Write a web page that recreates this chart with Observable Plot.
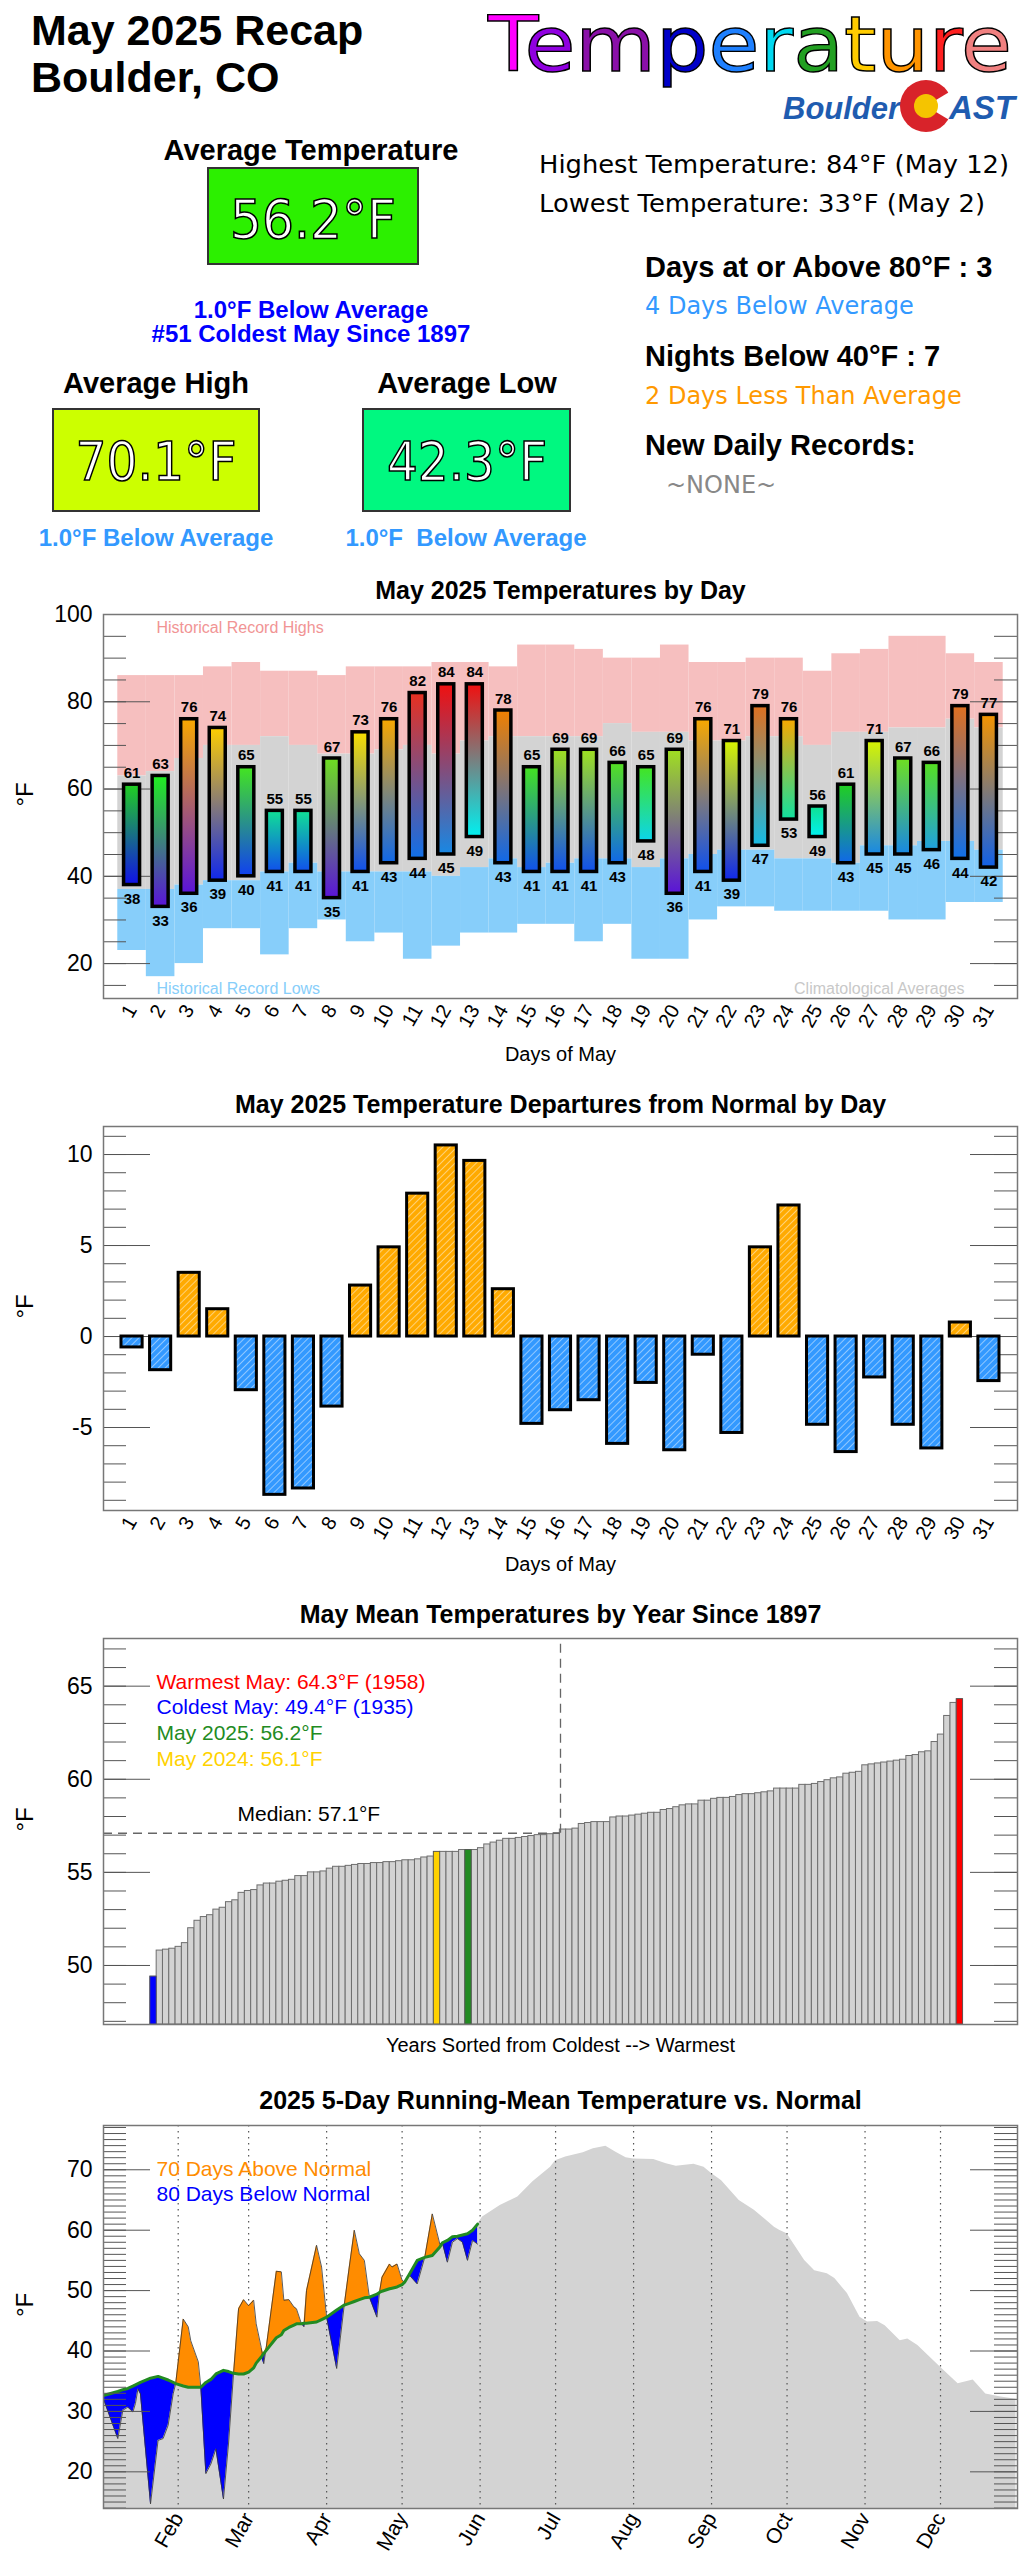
<!DOCTYPE html>
<html><head><meta charset="utf-8">
<script src="https://cdn.jsdelivr.net/npm/d3@7"></script>
<script src="https://cdn.jsdelivr.net/npm/@observablehq/plot@0.6"></script>
<style>
body{margin:0;background:#fff;}
#wrap{position:relative;width:1031px;height:2560px;overflow:hidden;background:#fff;font-family:"Liberation Sans",Arial,Helvetica,sans-serif;}
#wrap > svg{position:absolute;left:0;}
</style></head><body><div id="wrap"></div>
<script>
// ---------------- DATA ----------------
// Header summary values
const avgTemp = "56.2", avgHigh = "70.1", avgLow = "42.3";
const avgTempDep = "1.0", avgHighDep = "1.0", avgLowDep = "1.0";
const coldRank = 51, sinceYear = 1897;
const highestTemp = 84, highestDate = "May 12", lowestTemp = 33, lowestDate = "May 2";
const hotDays = 3, hotDaysDiff = 4, coldNights = 7, coldNightsDiff = 2;
const tempLetters = ["T","e","m","p","e","r","a","t","u","r","e"];

// Chart 1: daily temperatures (May 2025)
const days = [1,2,3,4,5,6,7,8,9,10,11,12,13,14,15,16,17,18,19,20,21,22,23,24,25,26,27,28,29,30,31];
const dailyHighs = [61,63,76,74,65,55,55,67,73,76,82,84,84,78,65,69,69,66,65,69,76,71,79,76,56,61,71,67,66,79,77];
const dailyLows  = [38,33,36,39,40,41,41,35,41,43,44,45,49,43,41,41,41,43,48,36,41,39,47,53,49,43,45,45,46,44,42];
const normalHighs = [63,64,67,70,70,72,70,68,68,69,70,68,71,72,72,72,72,75,73,73,71,71,72,72,70,73,73,74,74,76,74];
const normalLows  = [37,37,38,39,39,41,43,41,41,41,41,40,42,44,42,43,44,44,42,44,45,46,46,44,44,43,47,47,48,48,46];
const recordHighs = [86,86,86,88,89,87,87,86,88,88,88,89,89,88,93,93,92,90,90,93,89,89,90,90,87,91,92,95,95,91,89];
const recordLows  = [23,17,20,28,28,22,28,30,25,27,21,24,27,27,29,29,25,29,21,21,30,33,33,32,32,32,32,30,30,34,34];
const y1Labels = [20,40,60,80,100];

// Chart 2: departures from normal
const departures = [-0.6,-1.85,3.5,1.5,-2.95,-8.7,-8.35,-3.85,2.8,4.9,7.85,10.5,9.65,2.6,-4.8,-4.05,-3.5,-5.9,-2.55,-6.25,-1.0,-5.3,4.9,7.2,-4.85,-6.35,-2.25,-4.85,-6.15,0.77,-2.45];
const y2Labels = [-5,0,5,10];

// Chart 3: May mean temperatures sorted coldest -> warmest (1897-2025)
const sortedMayMeans = [49.4,50.8,50.85,50.9,51.0,51.2,52.0,52.4,52.6,52.7,53.0,53.1,53.4,53.5,53.9,54.0,54.05,54.3,54.4,54.4,
 54.5,54.55,54.6,54.8,54.8,55.0,55.0,55.05,55.2,55.3,55.3,55.35,55.4,55.45,55.45,55.5,55.5,55.55,55.55,55.6,
 55.65,55.65,55.7,55.8,55.85,56.1,56.1,56.1,56.1,56.2,56.2,56.2,56.3,56.5,56.6,56.7,56.8,56.8,56.85,56.9,
 56.95,57.0,57.0,57.05,57.1,57.3,57.3,57.35,57.6,57.65,57.7,57.7,57.7,57.95,58.0,58.0,58.05,58.1,58.15,58.2,
 58.2,58.35,58.4,58.5,58.6,58.65,58.65,58.85,58.85,58.95,59.0,59.0,59.05,59.15,59.2,59.2,59.25,59.3,59.35,59.5,
 59.5,59.5,59.5,59.7,59.7,59.75,59.85,59.95,60.05,60.1,60.3,60.35,60.4,60.75,60.8,60.85,60.9,60.95,61.0,61.05,
 61.25,61.3,61.45,61.5,62.0,62.4,63.4,64.1,64.3];
const rank2024 = 45, rank2025 = 50, rankMedian = 64;
const medianMean = 57.1;
const legend3 = ["Warmest May: 64.3°F (1958)","Coldest May: 49.4°F (1935)","May 2025: 56.2°F","May 2024: 56.1°F"];
const y3Labels = [50,55,60,65];

// Chart 4: 2025 5-day running mean vs normal (day of year)
const runDays   = [2,8,10,12,14,15,16,17,21,24,26,28,30,31,34,36,37,40,41,43,45,47,50,52,54,56,58,60,62,63,65,66,67,71,73,74,76,78,79,81,82,83,87,89,91,95,98,100,102,104,106,108,111,112,113,116,117,119,121,122,124,127,130,133,136,137,139,141,143,145,147,149,151];
const runActual = [32.4,25.5,30.2,30.7,29.9,31.3,33.7,32.9,14.7,25.2,25.5,27.7,32.9,34.6,45.3,44.0,41.7,38.2,34.0,19.7,21.3,23.8,15.5,24.6,36.3,47.0,48.5,47.5,48.4,44.5,40.6,37.9,40.6,53.2,53.1,48.4,48.5,47.3,47.0,44.5,44.0,50.0,57.5,53.9,45.6,37.1,47.6,53.9,60.0,56.1,55.0,48.9,45.6,49.7,52.2,54.4,53.9,54.4,51.7,51.4,52.5,51.1,55.5,62.7,57.7,57.9,54.7,58.0,58.6,58.0,55.0,58.3,57.7];
const runNormal = [32.6,33.3,33.6,33.8,34.2,34.4,34.6,34.8,35.5,35.8,35.5,35.2,34.8,34.6,34.2,34.0,34.0,34.0,34.0,34.8,35.3,36.2,36.8,36.6,36.3,36.2,36.2,36.5,37.2,38.0,39.0,39.6,40.1,42.2,42.7,43.4,43.9,44.3,44.5,44.5,44.6,44.6,44.8,45.2,45.6,46.8,47.6,47.9,48.2,48.5,48.8,48.9,49.4,49.7,49.9,50.3,50.4,50.6,51.0,51.4,52.8,55.0,55.5,55.8,57.2,57.9,58.3,58.9,59.0,59.2,59.4,60.0,61.0];
const laterDays   = [153,160,167,173,180,182,186,193,197,202,206,210,213,221,226,230,237,241,244,248,255,261,269,271,274,281,285,290,293,298,303,306,310,313,319,322,326,335,342,348,353,359,365];
const laterNormal = [62.2,64.1,65.5,68.0,70.4,71.5,72.1,72.8,73.5,73.9,72.9,72.0,71.8,71.7,71.0,70.6,70.9,70.4,69.4,68.2,64.9,63.3,60.5,60.0,59.4,55.0,53.3,52.8,52.0,49.5,45.6,44.8,44.9,44.2,41.7,42.0,40.9,37.3,34.6,35.2,32.9,32.4,32.0];
const monthStartDays = [32,60,91,121,152,182,213,244,274,305,335];
const monthLabels = ["Feb","Mar","Apr","May","Jun","Jul","Aug","Sep","Oct","Nov","Dec"];
const daysAbove = 70, daysBelow = 80;
const y4Labels = [20,30,40,50,60,70];

// ---------------- LAYOUT / STYLE ----------------
const wrap = document.getElementById("wrap");
const FONT = '"Liberation Sans", Arial, Helvetica, sans-serif';
const DJV = '"DejaVu Sans", Verdana, sans-serif';
const W = 1031, ML = 103, MR = 14, FW = W - ML - MR;
const TS = 23, TL = 47, TC = "#555";

function place(svg, top) { svg.style.top = top + "px"; wrap.appendChild(svg); return svg; }
function sideTicks(minor, major) {
  return [
    Plot.tickY(minor, {y: d => d, insetRight: FW - TS, stroke: TC}),
    Plot.tickY(minor, {y: d => d, insetLeft: FW - TS, stroke: TC}),
    Plot.tickY(major, {y: d => d, insetRight: FW - TL, stroke: TC}),
    Plot.tickY(major, {y: d => d, insetLeft: FW - TL, stroke: TC})
  ];
}
const titleMark = (t, dy) => Plot.text([t], {text: d => d, frameAnchor: "top", dy, lineAnchor: "bottom", fontSize: 25, fontWeight: "bold", fill: "#000"});
const yLab = () => Plot.text(["°F"], {text: d => d, frameAnchor: "left", dx: -78, rotate: -90, fontSize: 24, fill: "#000"});
const xLab = (t, dy) => Plot.text([t], {text: d => d, frameAnchor: "bottom", dy, lineAnchor: "bottom", fontSize: 20, fill: "#000"});
const frame = () => Plot.frame({stroke: "#777", strokeWidth: 1.5});
const yAxis = (ticks) => Plot.axisY({ticks, tickSize: 0, tickPadding: 11, fontSize: 23, label: null, tickFormat: d => String(d)});
const legendText = (t, dx, dy, fill) => Plot.text([t], {text: d => d, frameAnchor: "top-left", dx, dy, textAnchor: "start", lineAnchor: "bottom", fontSize: 21, fill});

// ---------------- HEADER ----------------
const tempColors = ["#ff00ff","#9000e0","#8a10a8","#0000c8","#1e80ff","#00d8f0","#22a022","#ffcc00","#ff9400","#ff2020","#f08080"];
function valBox(x, y, w, h, fill, cx, by, txt, len) {
  return `<rect x="${x}" y="${y}" width="${w}" height="${h}" fill="${fill}" stroke="#333" stroke-width="2"/>
  <text x="${cx}" y="${by}" text-anchor="middle" font-family='${DJV}' font-size="54" fill="#fff" stroke="#000" stroke-width="1.6" textLength="${len}" lengthAdjust="spacingAndGlyphs">${txt}</text>`;
}
const header = `<svg xmlns="http://www.w3.org/2000/svg" width="1031" height="560" font-family='${FONT}'>
<text x="31" y="45" font-size="43" font-weight="bold">May 2025 Recap</text>
<text x="31" y="92" font-size="43" font-weight="bold">Boulder, CO</text>
<text x="488" y="71" font-family='${DJV}' font-size="76" stroke="#000" stroke-width="1.4" textLength="524" lengthAdjust="spacingAndGlyphs">${tempLetters.map((c,i)=>`<tspan fill="${tempColors[i]}">${c}</tspan>`).join("")}</text>
<text x="783" y="119" font-size="31" font-weight="bold" font-style="italic" fill="#1f5cb0">Boulder</text>
<circle cx="926" cy="106" r="26" fill="#d8232a"/>
<path d="M926,106 L956,88 L956,124 Z" fill="#fff"/>
<circle cx="926" cy="106" r="12" fill="#f5c400"/>
<text x="949" y="119" font-size="33" font-weight="bold" font-style="italic" fill="#1f5cb0">AST</text>
<text x="311" y="160" text-anchor="middle" font-size="29" font-weight="bold">Average Temperature</text>
${valBox(208,168,210,96,"#2cf000",313,238,avgTemp+"°F",166)}
<text x="311" y="318" text-anchor="middle" font-size="24" font-weight="bold" fill="#0000ff">${avgTempDep}°F Below Average</text>
<text x="311" y="342" text-anchor="middle" font-size="24" font-weight="bold" fill="#0000ff">#${coldRank} Coldest May Since ${sinceYear}</text>
<text x="156" y="393" text-anchor="middle" font-size="29" font-weight="bold">Average High</text>
${valBox(53,409,206,102,"#ccff00",156,480,avgHigh+"°F",161)}
<text x="467" y="393" text-anchor="middle" font-size="29" font-weight="bold">Average Low</text>
${valBox(363,409,207,102,"#00f880",467,480,avgLow+"°F",160)}
<text x="156" y="546" text-anchor="middle" font-size="24" font-weight="bold" fill="#3399ff">${avgHighDep}°F Below Average</text>
<text x="466" y="546" text-anchor="middle" font-size="24" font-weight="bold" fill="#3399ff" style="white-space:pre">${avgLowDep}°F  Below Average</text>
<g font-family='${DJV}' font-size="24">
<text x="539" y="173" textLength="470" lengthAdjust="spacingAndGlyphs">Highest Temperature: ${highestTemp}°F (${highestDate})</text>
<text x="539" y="212" textLength="446" lengthAdjust="spacingAndGlyphs">Lowest Temperature: ${lowestTemp}°F (${lowestDate})</text>
<text x="645" y="314" fill="#3399ff">${hotDaysDiff} Days Below Average</text>
<text x="645" y="404" fill="#ff9900">${coldNightsDiff} Days Less Than Average</text>
<text x="666" y="493" fill="#888">~NONE~</text>
</g>
<text x="645" y="277" font-size="29" font-weight="bold">Days at or Above 80°F : ${hotDays}</text>
<text x="645" y="366" font-size="29" font-weight="bold">Nights Below 40°F : ${coldNights}</text>
<text x="645" y="455" font-size="29" font-weight="bold">New Daily Records:</text>
</svg>`;
wrap.insertAdjacentHTML("beforeend", header);
wrap.lastElementChild.style.top = "0px";

// ---------------- CHART 1 ----------------
const c1 = days.map((d,i)=>({day:d, hi:dailyHighs[i], lo:dailyLows[i], nhi:normalHighs[i], nlo:normalLows[i], rhi:recordHighs[i], rlo:recordLows[i]}));
const tempColor = d3.scaleLinear()
  .domain([33,36,38,40,42,44,46,49,53,56,61,63,66,69,71,73.5,76,78,79,82,84])
  .range(["#5a14d8","#5a14d8","#1010e8","#1040f0","#1060e8","#1070e8","#20a0e0","#00f0f0","#10e0a0","#10e090","#20d020","#20f020","#55e020","#a0e020","#d8f400","#ffd800","#f8a800","#f08000","#e07020","#e83020","#f01010"])
  .clamp(true);
const chart1 = Plot.plot({
  width: W, height: 520, marginLeft: ML, marginRight: MR, marginTop: 54, marginBottom: 82,
  x: {domain: [0, 32]}, y: {domain: [12, 100]},
  color: {type: "identity"},
  style: {fontFamily: FONT, background: "transparent", overflow: "visible", color: "#000"},
  marks: [
    Plot.rectY(c1, {x1: d => d.day - 0.5, x2: d => d.day + 0.5, y1: "nhi", y2: "rhi", fill: "#f6bfbf"}),
    Plot.rectY(c1, {x1: d => d.day - 0.5, x2: d => d.day + 0.5, y1: "nlo", y2: "nhi", fill: "#d3d3d3"}),
    Plot.rectY(c1, {x1: d => d.day - 0.5, x2: d => d.day + 0.5, y1: "rlo", y2: "nlo", fill: "#87cefa"}),
    Plot.text(["Historical Record Highs"], {text: d => d, frameAnchor: "top-left", dx: 53, dy: 18, textAnchor: "start", lineAnchor: "bottom", fontSize: 16, fill: "#f19494"}),
    Plot.text(["Historical Record Lows"], {text: d => d, frameAnchor: "bottom-left", dx: 53, dy: -5, textAnchor: "start", lineAnchor: "bottom", fontSize: 16, fill: "#87cefa"}),
    Plot.text(["Climatological Averages"], {text: d => d, frameAnchor: "bottom-right", dx: -53, dy: -5, textAnchor: "end", lineAnchor: "bottom", fontSize: 16, fill: "#c8c8c8"}),
    ...sideTicks(d3.range(15, 100, 5), y1Labels),
    Plot.rectY(c1, {x1: d => d.day - 0.28, x2: d => d.day + 0.28, y1: "lo", y2: "hi", fill: d => `url(#tg${d.day})`, stroke: "#000", strokeWidth: 3.5}),
    Plot.text(c1, {x: "day", y: "hi", text: d => String(d.hi), dy: -7, lineAnchor: "bottom", fontSize: 15, fontWeight: "bold", fill: "#000"}),
    Plot.text(c1, {x: "day", y: "lo", text: d => String(d.lo), dy: 8, lineAnchor: "top", fontSize: 15, fontWeight: "bold", fill: "#000"}),
    frame(),
    yAxis(y1Labels),
    Plot.axisX({ticks: days, tickSize: 0, tickPadding: 8, tickRotate: -60, fontSize: 20, label: null, tickFormat: d => String(d)}),
    titleMark("May 2025 Temperatures by Day", -16),
    yLab(),
    xLab("Days of May", 62)
  ]
});
place(chart1, 560);
{
  const defs = d3.select(chart1).insert("defs", ":first-child");
  c1.forEach(d => {
    const g = defs.append("linearGradient").attr("id", "tg" + d.day).attr("x1", 0).attr("y1", 1).attr("x2", 0).attr("y2", 0);
    g.append("stop").attr("offset", "0%").attr("stop-color", tempColor(d.lo));
    g.append("stop").attr("offset", "100%").attr("stop-color", tempColor(d.hi));
  });
}

// ---------------- CHART 2 ----------------
const c2 = days.map((d,i)=>({day:d, dep:departures[i]}));
const chart2 = Plot.plot({
  width: W, height: 500, marginLeft: ML, marginRight: MR, marginTop: 46, marginBottom: 70,
  x: {domain: [0, 32]}, y: {domain: [-9.56, 11.54]},
  color: {type: "identity"},
  style: {fontFamily: FONT, background: "transparent", overflow: "visible", color: "#000"},
  marks: [
    ...sideTicks(d3.range(-9, 12, 1), y2Labels),
    Plot.rectY(c2, {x1: d => d.day - 0.37, x2: d => d.day + 0.37, y1: 0, y2: "dep", fill: d => d.dep >= 0 ? "url(#hatchO)" : "url(#hatchB)", stroke: "#000", strokeWidth: 3}),
    frame(),
    yAxis(y2Labels),
    Plot.axisX({ticks: days, tickSize: 0, tickPadding: 8, tickRotate: -60, fontSize: 20, label: null, tickFormat: d => String(d)}),
    titleMark("May 2025 Temperature Departures from Normal by Day", -14),
    yLab(),
    xLab("Days of May", 60)
  ]
});
place(chart2, 1080);
{
  const defs = d3.select(chart2).insert("defs", ":first-child");
  [["hatchO", "#ffaa00"], ["hatchB", "#3399ff"]].forEach(([id, col]) => {
    const p = defs.append("pattern").attr("id", id).attr("patternUnits", "userSpaceOnUse").attr("width", 5).attr("height", 5).attr("patternTransform", "rotate(45)");
    p.append("rect").attr("width", 5).attr("height", 5).attr("fill", col);
    p.append("line").attr("x1", 0).attr("y1", 0).attr("x2", 0).attr("y2", 5).attr("stroke", "#fff").attr("stroke-width", 1.1).attr("stroke-opacity", 0.85);
  });
}

// ---------------- CHART 3 ----------------
const c3 = sortedMayMeans.map((v,i)=>({i, v}));
const y3Dom = [46.83, 67.56], x3Dom = [-7.94, 137.14];
const special = [
  {i: 0, fill: "#0000ff"}, {i: rank2024, fill: "#ffd200"}, {i: rank2025, fill: "#228b22"}, {i: sortedMayMeans.length - 1, fill: "#ff0000"}
];
const legendColors = ["#ff0000", "#0000ff", "#228b22", "#ffd200"];
const chart3 = Plot.plot({
  width: W, height: 480, marginLeft: ML, marginRight: MR, marginTop: 58, marginBottom: 36,
  x: {domain: x3Dom, axis: null}, y: {domain: y3Dom},
  style: {fontFamily: FONT, background: "transparent", overflow: "visible", color: "#000"},
  marks: [
    ...sideTicks(d3.range(47, 68, 1), y3Labels),
    Plot.rectY(c3, {x1: d => d.i - 0.5, x2: d => d.i + 0.5, y1: y3Dom[0], y2: "v", fill: "#d3d3d3", stroke: "#6e6e6e", strokeWidth: 1}),
    Plot.rectY(special.map(s => ({i: s.i, v: sortedMayMeans[s.i], fill: s.fill})), {x1: d => d.i - 0.5, x2: d => d.i + 0.5, y1: y3Dom[0], y2: "v", fill: d => d.fill, stroke: "#555", strokeWidth: 0.8}),
    Plot.ruleY([medianMean], {x1: x3Dom[0], x2: rankMedian + 0.6, stroke: "#666", strokeWidth: 1.3, strokeDasharray: "9,6"}),
    Plot.ruleX([rankMedian + 0.6], {y1: medianMean, y2: y3Dom[1], stroke: "#666", strokeWidth: 1.3, strokeDasharray: "9,6"}),
    ...legend3.map((t, k) => legendText(t, 53, 50 + k * 25.7, legendColors[k])),
    legendText(`Median: ${medianMean}°F`, 134, 182, "#000"),
    frame(),
    yAxis(y3Labels),
    titleMark(`May Mean Temperatures by Year Since ${sinceYear}`, -16),
    yLab(),
    xLab("Years Sorted from Coldest --> Warmest", 27)
  ]
});
place(chart3, 1580);

// ---------------- CHART 4 ----------------
const c4 = runDays.map((d,i)=>({day:d, a:runActual[i], n:runNormal[i]}));
const normFull = c4.map(r => ({day: r.day, v: r.n})).concat(laterDays.map((d,i)=>({day:d, v:laterNormal[i]})));
const y4Dom = [13.93, 77.33];
const chart4 = Plot.plot({
  width: W, height: 500, marginLeft: ML, marginRight: MR, marginTop: 65, marginBottom: 52,
  x: {domain: [2.31, 365.6]}, y: {domain: y4Dom},
  style: {fontFamily: FONT, background: "transparent", overflow: "visible", color: "#000"},
  marks: [
    Plot.areaY(normFull, {x: "day", y1: y4Dom[0], y2: "v", fill: "#d3d3d3", clip: true}),
    Plot.ruleX(monthStartDays, {stroke: "#555", strokeWidth: 1.2, strokeDasharray: "1.5,4.5"}),
    Plot.areaY(c4, {x: "day", y1: d => Math.min(d.a, d.n), y2: "n", fill: "#0000ff", clip: true}),
    Plot.areaY(c4, {x: "day", y1: "n", y2: d => Math.max(d.a, d.n), fill: "#ff8c00", clip: true}),
    Plot.lineY(c4, {x: "day", y: "a", stroke: "#333", strokeWidth: 0.8, clip: true}),
    Plot.lineY(c4, {x: "day", y: "n", stroke: "#228b22", strokeWidth: 3, clip: true}),
    ...sideTicks(d3.range(14, 78, 1), y4Labels),
    legendText(`${daysAbove} Days Above Normal`, 53, 50, "#ff8c00"),
    legendText(`${daysBelow} Days Below Normal`, 53, 75, "#0000ff"),
    frame(),
    yAxis(y4Labels),
    Plot.axisX({ticks: monthStartDays, tickSize: 0, tickPadding: 6, tickRotate: -60, fontSize: 21, label: null, tickFormat: d => monthLabels[monthStartDays.indexOf(d)]}),
    titleMark("2025 5-Day Running-Mean Temperature vs. Normal", -17),
    yLab()
  ]
});
place(chart4, 2060);
</script></body></html>
